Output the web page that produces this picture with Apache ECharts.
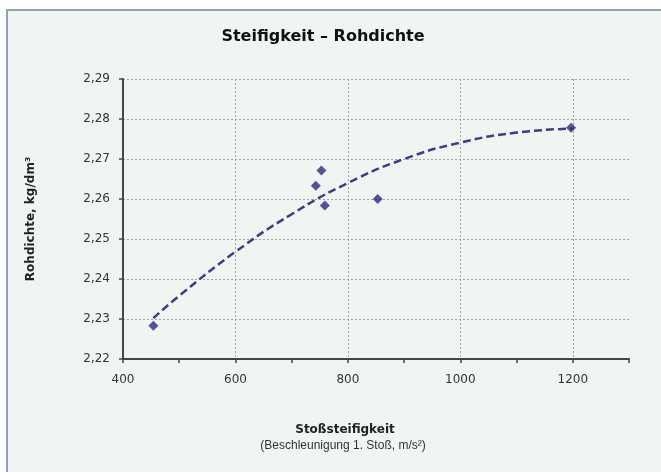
<!DOCTYPE html>
<html><head><meta charset="utf-8">
<script src="https://cdn.jsdelivr.net/npm/echarts@6/dist/echarts.min.js"></script>
<style>html,body{margin:0;padding:0;background:#fff}#c{width:661px;height:472px}</style>
</head><body><div id="c"></div>
<script>
// Measured points
var xValues = [454, 743, 753, 759, 853, 1197];
var yValues = [2.2283, 2.2633, 2.2671, 2.2584, 2.2600, 2.2778];
// Trend line
var trendX = [454, 500, 600, 700, 800, 900, 1000, 1100, 1200];
var trendY = [2.2302, 2.2358, 2.2468, 2.2562, 2.2640, 2.2700, 2.2741, 2.2766, 2.2776];
var title = 'Steifigkeit – Rohdichte';
var yName = 'Rohdichte, kg/dm³';
var xName1 = 'Stoßsteifigkeit';
var xName2 = '(Beschleunigung 1. Stoß, m/s²)';

var pts = xValues.map(function(x,i){return [x,yValues[i]];});
var trend = trendX.map(function(x,i){return [x,trendY[i]];});
var F = 'Liberation Sans, Arial, sans-serif';
var D = 'DejaVu Sans, sans-serif';
var chart = echarts.init(document.getElementById('c'));
chart.setOption({
  animation:false,
  backgroundColor:'#fff',
  graphic:[
    {type:'rect',z:-10,silent:true,shape:{x:7,y:10,width:670,height:480},style:{fill:'#f0f5f1',stroke:'#8ea3b6',lineWidth:2}},
    {type:'text',z:10,style:{text:xName1,font:'bold 12px '+D,fill:'#222',textAlign:'center'},position:[345,424]},
    {type:'text',z:10,style:{text:xName2,font:'12px '+F,fill:'#333',textAlign:'center'},position:[343,440]}
  ],
  title:{text:title,left:318,top:24,textAlign:'center',textStyle:{fontFamily:D,fontSize:16,fontWeight:'bold',color:'#111'}},
  grid:{left:123,right:32,top:79,bottom:113},
  xAxis:{type:'value',min:400,max:1300,interval:200,
    axisLine:{lineStyle:{color:'#444',width:2}},
    axisTick:{show:true,length:4,lineStyle:{color:'#444',width:1.5}},
    minorTick:{show:true,splitNumber:2,length:4,lineStyle:{color:'#444',width:1.5}},
    axisLabel:{color:'#333',fontFamily:D,fontSize:12,margin:15,showMaxLabel:false,
      formatter:function(v){return v%200===0?String(v):'';}},
    splitLine:{show:true,showMaxLine:false,lineStyle:{color:'#a0a2a0',type:[2,2],width:1}}
  },
  yAxis:{type:'value',min:2.22,max:2.29,interval:0.01,
    name:yName,nameLocation:'middle',nameGap:86,
    nameTextStyle:{fontFamily:D,fontSize:12,fontWeight:'bold',color:'#222'},
    axisLine:{show:true,lineStyle:{color:'#444',width:2}},
    axisTick:{show:true,length:4,lineStyle:{color:'#444',width:1.5}},
    axisLabel:{color:'#333',fontFamily:D,fontSize:12,margin:13,
      formatter:function(v){return v.toFixed(2).replace('.',',');}},
    splitLine:{show:true,lineStyle:{color:'#a0a2a0',type:[2,2],width:1}}
  },
  series:[
    {type:'line',data:trend,smooth:true,symbol:'none',z:2,
      lineStyle:{color:'#3c3c8c',width:2.5,type:[8,4]}},
    {type:'scatter',data:pts,symbol:'diamond',symbolSize:10,z:3,
      itemStyle:{color:'#2a2a86'}}
  ]
});
</script></body></html>
